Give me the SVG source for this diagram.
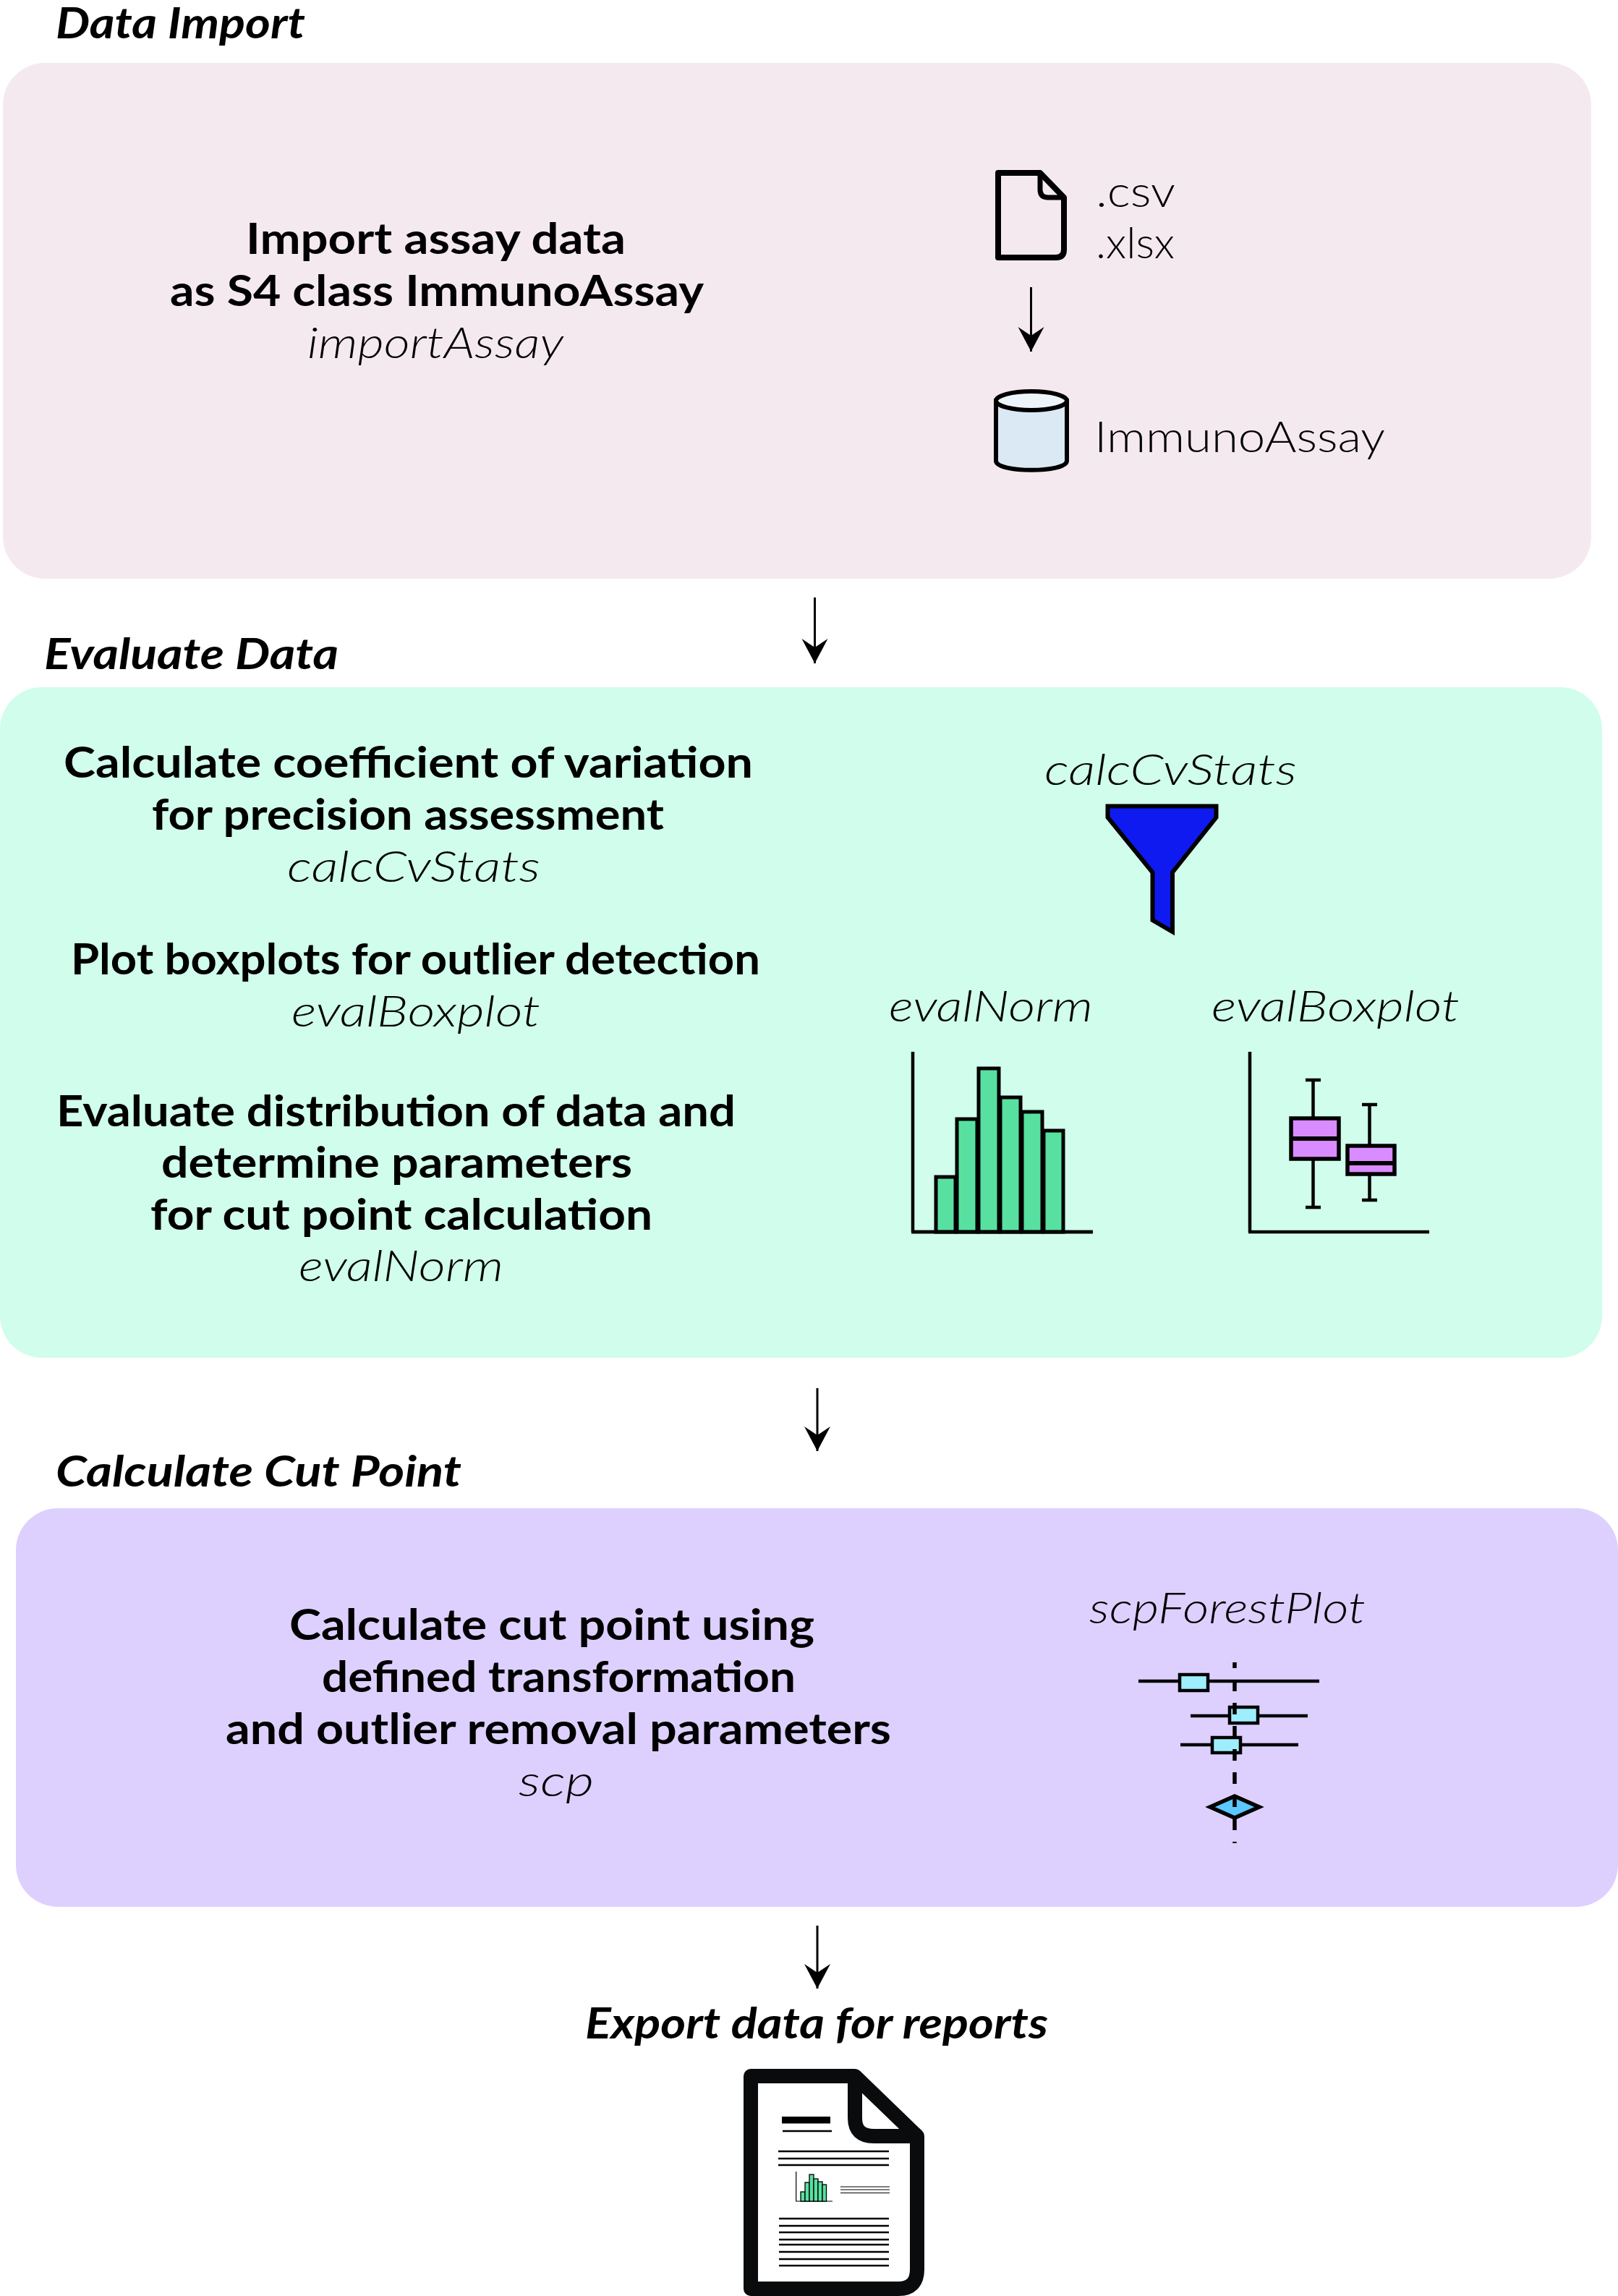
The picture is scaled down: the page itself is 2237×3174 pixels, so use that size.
<svg xmlns="http://www.w3.org/2000/svg" width="2237" height="3174" viewBox="0 0 2237 3174">
<style>
text{font-family:"Lato","Liberation Sans",sans-serif;font-size:60px;fill:#000}
.h{font-weight:700;font-style:italic}
.b{font-weight:700}
.f{font-weight:300;font-style:italic}
.n{font-weight:300}
.k{fill:none;stroke:#000;stroke-linecap:butt}
.ar{fill:none;stroke:#000;stroke-width:3}
.bar{fill:#58e0a0;stroke:#000;stroke-width:5}
.boxp{fill:#d98cff;stroke:#000;stroke-width:5.500}
.fb{fill:#9eeeff;stroke:#000;stroke-width:4.500}
</style>
<defs>
<marker id="ah" markerUnits="userSpaceOnUse" markerWidth="40" markerHeight="40" refX="34" refY="20" orient="auto" viewBox="0 0 40 40">
<path d="M34 20 L0 2 L12 20 L0 38 Z" fill="#000"/>
</marker>
</defs>
<rect width="2237" height="3174" fill="#fff"/>

<g id="panel-import">
<rect x="4" y="87" width="2196" height="713" rx="58" fill="#f5e9f0"/>
<text class="h" x="77" y="53" textLength="345" lengthAdjust="spacingAndGlyphs">Data Import</text>
<text class="b" x="340" y="351" textLength="525" lengthAdjust="spacingAndGlyphs">Import assay data</text>
<text class="b" x="235" y="423" textLength="738" lengthAdjust="spacingAndGlyphs">as S4 class ImmunoAssay</text>
<text class="f" x="425" y="495" textLength="354" lengthAdjust="spacingAndGlyphs">importAssay</text>
<text class="n" x="1515" y="286" textLength="110" lengthAdjust="spacingAndGlyphs">.csv</text>
<text class="n" x="1515" y="357" textLength="109" lengthAdjust="spacingAndGlyphs">.xlsx</text>
<text class="n" x="1513" y="625" textLength="402" lengthAdjust="spacingAndGlyphs">ImmunoAssay</text>
</g>
<g id="icon-file">
<path d="M1380 239 H1438 L1471 273 V345 Q1471 356 1460 356 H1380 Z" fill="none" stroke="#000" stroke-width="8" stroke-linejoin="round"/>
<path d="M1438 239 V262 Q1438 273 1449 273 H1471" fill="none" stroke="#000" stroke-width="7"/>
</g>
<g id="icon-cylinder">
<path d="M1377 554 V637 C1377 654 1475 654 1475 637 V554 Z" fill="#dbe9f4" stroke="#000" stroke-width="6"/>
<ellipse cx="1426" cy="554" rx="49" ry="13" fill="#eef5fa" stroke="#000" stroke-width="6"/>
</g>

<g id="panel-evaluate">
<rect x="0" y="950" width="2215" height="927" rx="58" fill="#d0fdec"/>
<text class="h" x="61" y="925" textLength="407" lengthAdjust="spacingAndGlyphs">Evaluate Data</text>
<text class="b" x="88" y="1075" textLength="953" lengthAdjust="spacingAndGlyphs">Calculate coefficient of variation</text>
<text class="b" x="210" y="1147" textLength="708" lengthAdjust="spacingAndGlyphs">for precision assessment</text>
<text class="f" x="397" y="1219" textLength="350" lengthAdjust="spacingAndGlyphs">calcCvStats</text>
<text class="b" x="98" y="1347" textLength="953" lengthAdjust="spacingAndGlyphs">Plot boxplots for outlier detection</text>
<text class="f" x="403" y="1419" textLength="344" lengthAdjust="spacingAndGlyphs">evalBoxplot</text>
<text class="b" x="78" y="1557" textLength="939" lengthAdjust="spacingAndGlyphs">Evaluate distribution of data and</text>
<text class="b" x="223" y="1628" textLength="651" lengthAdjust="spacingAndGlyphs">determine parameters</text>
<text class="b" x="208" y="1700" textLength="694" lengthAdjust="spacingAndGlyphs">for cut point calculation</text>
<text class="f" x="413" y="1771" textLength="283" lengthAdjust="spacingAndGlyphs">evalNorm</text>
<text class="f" x="1444" y="1085" textLength="349" lengthAdjust="spacingAndGlyphs">calcCvStats</text>
<text class="f" x="1229" y="1412" textLength="282" lengthAdjust="spacingAndGlyphs">evalNorm</text>
<text class="f" x="1675" y="1412" textLength="343" lengthAdjust="spacingAndGlyphs">evalBoxplot</text>
</g>
<g id="icon-funnel">
<path d="M1531.500 1114.500 H1681.500 V1130 L1621 1206 V1288 L1593.500 1272 V1206 L1531.500 1130 Z" fill="#0f1af0" stroke="#000" stroke-width="6"/>
</g>
<g id="icon-histogram">
<path class="k" stroke-width="4.500" d="M1262 1454 V1703 M1260 1703 H1511"/>
<rect class="bar" x="1294" y="1627" width="27" height="76"/>
<rect class="bar" x="1323" y="1547" width="28" height="156"/>
<rect class="bar" x="1353" y="1477" width="28" height="226"/>
<rect class="bar" x="1383" y="1517" width="28" height="186"/>
<rect class="bar" x="1413" y="1537" width="28" height="166"/>
<rect class="bar" x="1443" y="1563" width="27" height="140"/>
<path class="k" stroke-width="4.500" d="M1260 1703 H1511"/>
</g>
<g id="icon-boxplot">
<path class="k" stroke-width="4.500" d="M1728 1454 V1703 M1726 1703 H1976"/>
<path class="k" stroke-width="4.500" d="M1815.500 1493 V1669 M1805 1493 H1826 M1805 1669 H1826 M1893.500 1527 V1659 M1883 1527 H1904 M1883 1659 H1904"/>
<rect class="boxp" x="1785" y="1546" width="66" height="56"/>
<path class="k" stroke-width="6" d="M1785 1574 H1851"/>
<rect class="boxp" x="1863" y="1584" width="65" height="39"/>
<path class="k" stroke-width="6" d="M1863 1608 H1928"/>
</g>

<g id="panel-cut">
<rect x="22" y="2085" width="2215" height="551" rx="58" fill="#ddd0fe"/>
<text class="h" x="77" y="2055" textLength="561" lengthAdjust="spacingAndGlyphs">Calculate Cut Point</text>
<text class="b" x="400" y="2267" textLength="726" lengthAdjust="spacingAndGlyphs">Calculate cut point using</text>
<text class="b" x="445" y="2339" textLength="655" lengthAdjust="spacingAndGlyphs">defined transformation</text>
<text class="b" x="312" y="2411" textLength="920" lengthAdjust="spacingAndGlyphs">and outlier removal parameters</text>
<text class="f" x="717" y="2483" textLength="104" lengthAdjust="spacingAndGlyphs">scp</text>
<text class="f" x="1506" y="2244" textLength="382" lengthAdjust="spacingAndGlyphs">scpForestPlot</text>
</g>
<g id="icon-forest">
<path class="k" stroke-width="4.500" d="M1574 2324 H1824 M1646 2372 H1808 M1632 2412 H1795"/>
<rect class="fb" x="1631" y="2315" width="39" height="22"/>
<rect class="fb" x="1700" y="2360" width="39" height="22"/>
<rect class="fb" x="1676" y="2402" width="39" height="21"/>
<path d="M1673 2498 L1707 2483 L1741 2498 L1707 2513 Z" fill="#5cc6ff" stroke="#000" stroke-width="5.500"/>
<path class="k" stroke-width="5.500" stroke-dasharray="16 16" stroke-dashoffset="8" d="M1707 2298 V2548"/>
</g>

<g id="export">
<text class="h" x="809" y="2818" textLength="640" lengthAdjust="spacingAndGlyphs">Export data for reports</text>
</g>
<g id="icon-report">
<path d="M1038 2870 H1182 L1268 2953 V3137 Q1268 3164 1242 3164 H1038 Z" fill="#fff" stroke="#090b0c" stroke-width="20" stroke-linejoin="round"/>
<path d="M1182 2870 V2928 Q1182 2953 1208 2953 H1268" fill="none" stroke="#090b0c" stroke-width="20"/>
<rect x="1081" y="2926" width="67" height="9.500" fill="#000"/>
<path class="k" stroke-width="2.500" d="M1082 2946 H1150 M1076 2974 H1229 M1076 2984 H1229 M1076 2993 H1229 M1077 3067 H1229 M1077 3077 H1229 M1077 3086 H1229 M1077 3096 H1229 M1077 3103 H1229 M1077 3113 H1229 M1077 3123 H1229 M1077 3132 H1229"/>
<path class="k" stroke-width="1.200" d="M1162 3023 H1230 M1162 3027 H1230 M1162 3031.500 H1230"/>
<path class="k" stroke-width="1.200" d="M1100.700 3002 V3043 H1151"/>
<g fill="#58e0a0" stroke="#000" stroke-width="1.300">
<rect x="1107" y="3030" width="6" height="13"/>
<rect x="1113" y="3017" width="6" height="26"/>
<rect x="1119" y="3006" width="6" height="37"/>
<rect x="1125" y="3012" width="6" height="31"/>
<rect x="1131" y="3016" width="6" height="27"/>
<rect x="1137" y="3020" width="5.500" height="23"/>
</g>
</g>

<g id="connectors">
<path class="ar" marker-end="url(#ah)" d="M1425.500 397 V486"/>
<path class="ar" marker-end="url(#ah)" d="M1126.500 826 V917"/>
<path class="ar" marker-end="url(#ah)" d="M1130 1919 V2006"/>
<path class="ar" marker-end="url(#ah)" d="M1130 2662 V2749"/>
</g>
</svg>
